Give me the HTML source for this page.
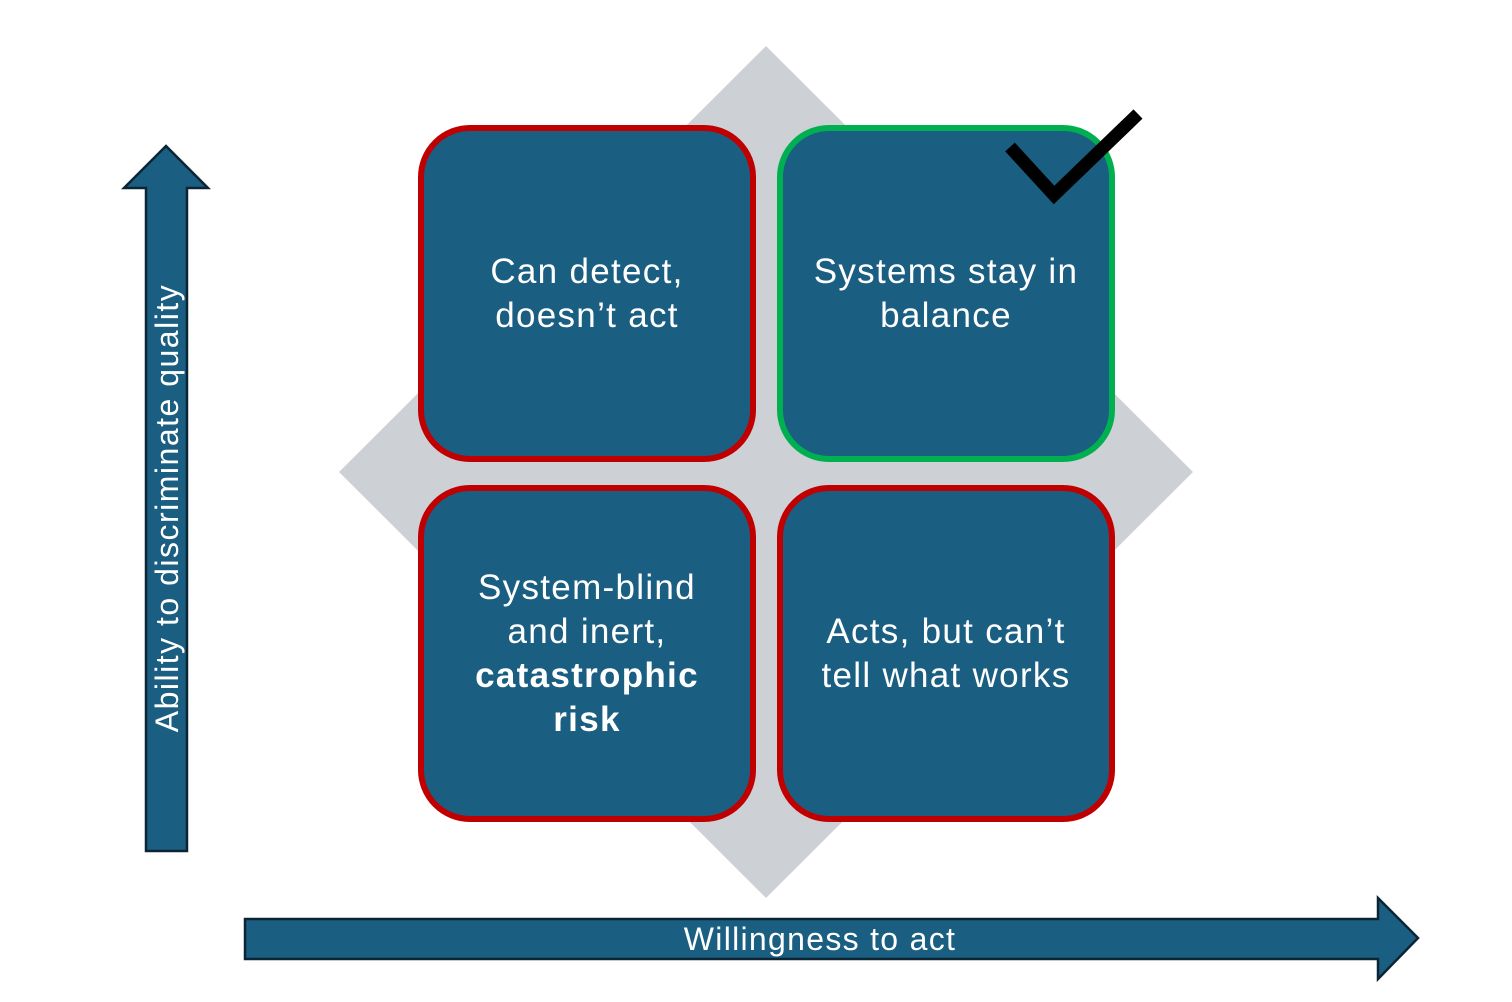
<!DOCTYPE html>
<html><head><meta charset="utf-8"><style>
html,body{margin:0;padding:0;background:#fff;}
body{width:1512px;height:1002px;position:relative;overflow:hidden;font-family:"Liberation Sans",sans-serif;}
.box{position:absolute;width:326px;height:325px;background:#1a5e82;border:6px solid #c00000;border-radius:52px;box-sizing:content-box;display:flex;align-items:center;justify-content:center;text-align:center;color:#fff;font-size:35px;line-height:44px;letter-spacing:1.3px;}
.box span{display:block;}
</style></head><body>
<svg width="1512" height="1002" style="position:absolute;left:0;top:0">
<polygon points="766,46 1193,472 766,898 339,472" fill="#cdd1d6"/>
<polygon points="166,146 208,188 187,188 187,851 146,851 146,188 124,188" fill="#1a5e82" stroke="#0b2535" stroke-width="2.5"/>
<polygon points="245,919 1378,919 1378,898 1418,938 1378,979 1378,959 245,959" fill="#1a5e82" stroke="#0b2535" stroke-width="2.5"/>
<text x="820" y="950" fill="#fff" font-size="32" letter-spacing="1.3" text-anchor="middle" font-family="Liberation Sans, sans-serif">Willingness to act</text>
<text transform="translate(178,508) rotate(-90)" fill="#fff" font-size="32" letter-spacing="1.5" text-anchor="middle" font-family="Liberation Sans, sans-serif">Ability to discriminate quality</text>
</svg>
<div class="box" style="left:418px;top:125px;"><span>Can detect,<br>doesn’t act</span></div>
<div class="box" style="left:777px;top:125px;border-color:#00b050;"><span>Systems stay in<br>balance</span></div>
<div class="box" style="left:418px;top:485px;"><span>System-blind<br>and inert,<br><b>catastrophic<br>risk</b></span></div>
<div class="box" style="left:777px;top:485px;"><span>Acts, but can’t<br>tell what works</span></div>
<svg width="1512" height="1002" style="position:absolute;left:0;top:0">
<polyline points="1010,147 1054,195 1138,114" fill="none" stroke="#000" stroke-width="13"/>
</svg>
</body></html>
